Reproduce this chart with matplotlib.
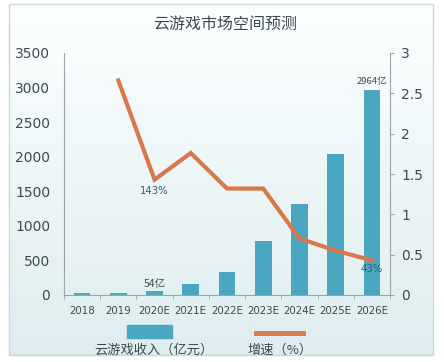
import numpy as np
import matplotlib
matplotlib.use('Agg')
import matplotlib.pyplot as plt
from matplotlib.patches import Rectangle
from matplotlib.lines import Line2D

plt.rcParams['font.family'] = ['DejaVu Sans', 'Noto Sans CJK SC']

years = ['2018', '2019', '2020E', '2021E', '2022E', '2023E', '2024E', '2025E', '2026E']
revenue = [30, 35, 54, 155, 338, 785, 1316, 2045, 2964]
growth_years = ['2019', '2020E', '2021E', '2022E', '2023E', '2024E', '2025E', '2026E']
growth = [2.66, 1.43, 1.76, 1.32, 1.32, 0.70, 0.55, 0.43]

bar_color = '#4ba7c1'
line_color = '#d9794a'
text_color = '#3c4a50'
cjk = ['Noto Sans CJK SC', 'DejaVu Sans']

fig = plt.figure(figsize=(4.44, 3.62), dpi=100)

# background with soft gradient and a thin frame
bg = fig.add_axes([0, 0, 1, 1])
bg.set_xlim(0, 444)
bg.set_ylim(362, 0)
bg.axis('off')
grad = np.linspace(0, 1, 256).reshape(-1, 1)
c_top = np.array([0.99, 1.0, 1.0])
c_bot = np.array([0.87, 0.93, 0.94])
img = c_top + (c_bot - c_top) * grad[..., None]
bg.imshow(img, extent=[9, 433, 355, 4], aspect='auto', zorder=0)
bg.add_patch(Rectangle((9, 4), 424, 351, fill=False, ec='#cfd6d8', lw=1, zorder=1))

ax = fig.add_axes([64 / 444, 1 - 295 / 362, 326 / 444, 242 / 362])
ax.patch.set_alpha(0)
x = np.arange(len(years))
ax.bar(x, revenue, width=0.46, color=bar_color, zorder=2)
ax.set_xlim(-0.5, len(years) - 0.5)
ax.set_ylim(0, 3500)
ax.set_yticks(np.arange(0, 3501, 500))
ax.set_xticks(x)
ax.set_xticklabels(years, fontsize=7.4, color=text_color)
ax.set_xticks(np.arange(-0.5, len(years), 1), minor=True)
ax.tick_params(axis='x', which='major', length=0, pad=8)
ax.tick_params(axis='x', which='minor', length=3, color='#9aa5a8')
ax.tick_params(axis='y', length=0, labelsize=10, colors=text_color, pad=10)
for s in ['top', 'right']:
    ax.spines[s].set_visible(False)
for s in ['left', 'bottom']:
    ax.spines[s].set_color('#9aa5a8')
    ax.spines[s].set_linewidth(0.8)

ax2 = ax.twinx()
gx = [years.index(g) for g in growth_years]
ax2.plot(gx, growth, color=line_color, lw=3, zorder=3, solid_joinstyle='miter')
ax2.set_xlim(-0.5, len(years) - 0.5)
ax2.set_ylim(0, 3)
ax2.set_yticks([0, 0.5, 1, 1.5, 2, 2.5, 3])
ax2.set_yticklabels(['0', '0.5', '1', '1.5', '2', '2.5', '3'])
ax2.tick_params(axis='y', length=3, color='#9aa5a8', labelsize=10, colors=text_color, pad=5)
for s in ['top', 'left', 'bottom']:
    ax2.spines[s].set_visible(False)
ax2.spines['right'].set_color('#9aa5a8')
ax2.spines['right'].set_linewidth(0.8)

# annotations
ax.text(8, revenue[8] + 60, '2964亿', ha='center', va='bottom', fontsize=6.8,
        color=text_color, family=cjk)
ax.text(2, revenue[2] + 40, '54亿', ha='center', va='bottom', fontsize=7.5,
        color=text_color, family=cjk)
ax2.text(2, growth[1] - 0.08, '143%', ha='center', va='top', fontsize=7.3, color='#3c5a6a')
ax2.text(8, growth[7] - 0.04, '43%', ha='center', va='top', fontsize=7.3, color='#3c5a6a')

# title
fig.text(225 / 444, 1 - 24 / 362, '云游戏市场空间预测', ha='center', va='center',
         fontsize=11.5, color=text_color, family=cjk)

# legend drawn by hand at the bottom
bg.add_patch(Rectangle((127, 325), 45, 13, color=bar_color, zorder=2))
bg.add_line(Line2D([256, 303], [333, 333], color=line_color, lw=3.5, zorder=2))
bg.text(154, 350, '云游戏收入（亿元）', ha='center', va='center', fontsize=9.5,
        color=text_color, family=cjk)
bg.text(280, 350, '增速（%）', ha='center', va='center', fontsize=9.5,
        color=text_color, family=cjk)

fig.savefig('out.png', dpi=100)
